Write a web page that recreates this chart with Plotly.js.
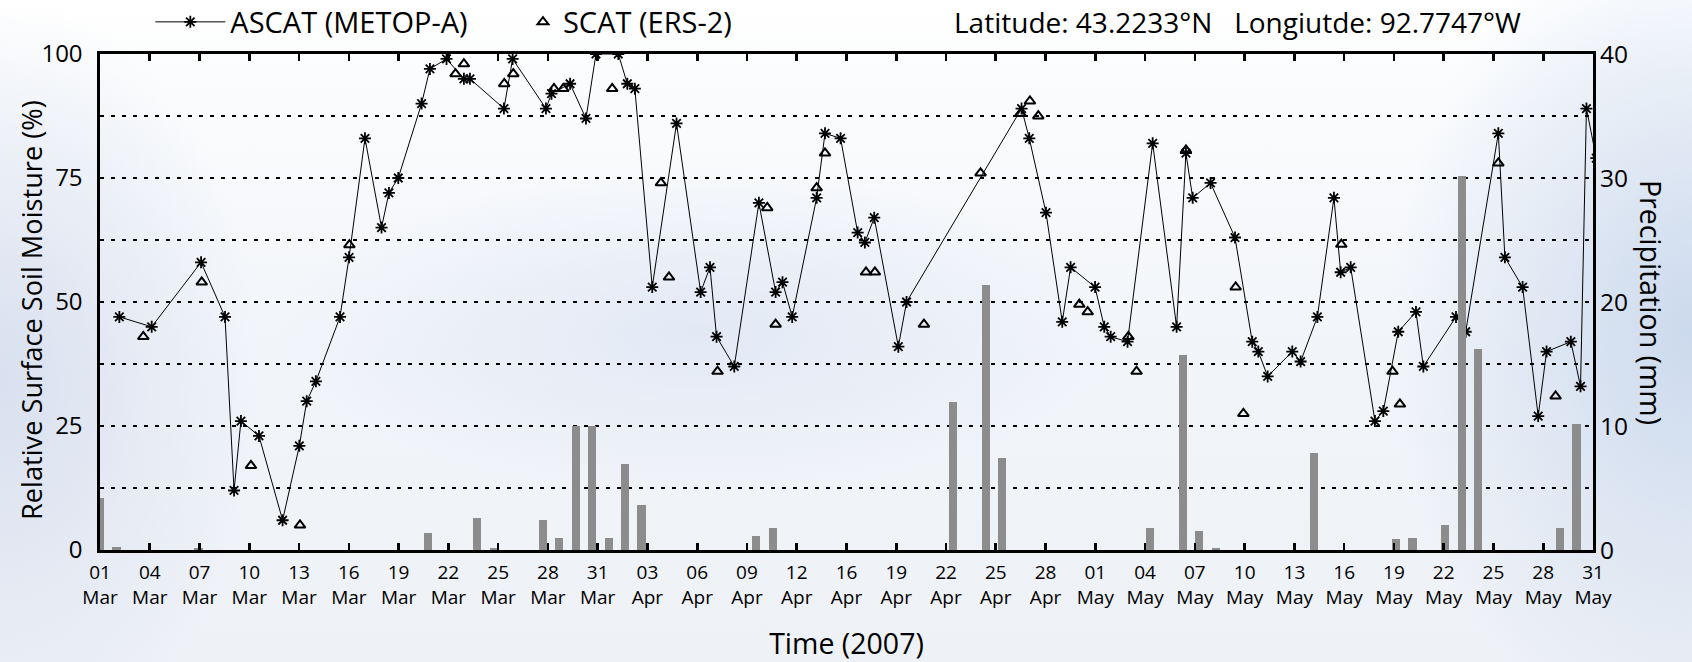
<!DOCTYPE html>
<html>
<head>
<meta charset="utf-8">
<script src="https://cdn.plot.ly/plotly-3.0.1.min.js"></script>
<style>
  html, body { margin: 0; padding: 0; }
  body {
    width: 1692px; height: 662px; overflow: hidden;
    background:
      radial-gradient(ellipse 300px 420px at 1692px 330px, rgba(200,215,236,0.9), rgba(200,215,236,0) 100%),
      radial-gradient(ellipse 260px 380px at 0px 380px, rgba(214,222,238,0.9), rgba(214,222,238,0) 100%),
      radial-gradient(ellipse 420px 160px at 700px 330px, rgba(222,230,244,0.8), rgba(222,230,244,0) 100%),
      linear-gradient(to bottom, #ffffff 0%, #fbfcfd 12%, #f1f4f9 55%, #eef1f6 100%);
  }
  #chart { width: 1692px; height: 662px; }
</style>
</head>
<body>
<div id="chart"></div>
<script>
// x values: days since 01 Mar 2007 (00:00)
var ascatDay = [1.18, 3.15, 6.16, 7.62, 8.17, 8.59, 9.69, 11.13, 12.15, 12.6, 13.16, 14.63, 15.18, 16.15, 17.16, 17.61, 18.18, 19.6, 20.11, 21.12, 22.18, 22.55, 24.62, 25.15, 27.18, 27.52, 28.65, 29.62, 30.23, 31.59, 32.14, 32.6, 33.66, 35.14, 36.61, 37.18, 37.58, 38.66, 40.16, 41.18, 41.6, 42.19, 43.68, 44.19, 45.14, 46.18, 46.62, 47.19, 48.66, 49.16, 56.17, 56.64, 57.66, 58.65, 59.16, 60.65, 61.21, 61.6, 62.63, 64.16, 65.62, 66.19, 66.6, 67.69, 69.18, 70.23, 70.6, 71.17, 72.67, 73.18, 74.2, 75.21, 75.62, 76.23, 77.71, 78.22, 79.13, 80.21, 80.66, 82.65, 83.24, 85.23, 85.63, 86.71, 87.66, 88.17, 89.65, 90.24, 90.6, 91.2];
var ascatSM  = [47, 45, 58, 47, 12, 26, 23, 6, 21, 30, 34, 47, 59, 83, 65, 72, 75, 90, 97, 99, 95, 95, 89, 99, 89, 92, 94, 87, 100, 100, 94, 93, 53, 86, 52, 57, 43, 37, 70, 52, 54, 47, 71, 84, 83, 64, 62, 67, 41, 50, 89, 83, 68, 46, 57, 53, 45, 43, 42, 82, 45, 80, 71, 74, 63, 42, 40, 35, 40, 38, 47, 71, 56, 57, 26, 28, 44, 48, 37, 47, 44, 84, 59, 53, 27, 40, 42, 33, 89, 79];

var scatDay = [2.64, 6.2, 9.2, 12.19, 15.2, 21.67, 22.18, 24.64, 25.19, 27.67, 28.24, 31.22, 34.19, 34.68, 37.64, 40.67, 41.18, 43.68, 44.19, 46.69, 47.23, 50.22, 53.67, 56.1, 56.68, 57.19, 59.69, 60.2, 62.68, 63.18, 66.19, 69.22, 69.69, 75.66, 78.78, 79.23, 85.23, 88.72];
var scatSM  = [43, 54, 17, 5, 61.5, 96, 98, 94, 96, 93, 93, 93, 74, 55, 36, 69, 45.5, 73, 80, 56, 56, 45.5, 76, 88, 90.5, 87.5, 49.5, 48, 43, 36, 80.6, 53, 27.5, 61.6, 36, 29.4, 78, 31];

var precipDay = [0, 1, 6, 20, 23, 24, 27, 28, 29, 30, 31, 32, 33, 40, 41, 52, 54, 55, 64, 66, 67, 68, 74, 79, 80, 82, 83, 84, 89, 90];
var precipMM  = [4.2, 0.25, 0.2, 1.35, 2.6, 0.2, 2.4, 1, 10, 10, 1, 6.9, 3.6, 1.1, 1.8, 11.9, 21.4, 7.4, 1.75, 15.7, 1.55, 0.2, 7.8, 0.9, 0.95, 2.0, 30.2, 16.2, 1.8, 10.2];

var tickLabels = ['01<br>Mar','04<br>Mar','07<br>Mar','10<br>Mar','13<br>Mar','16<br>Mar','19<br>Mar','22<br>Mar','25<br>Mar','28<br>Mar','31<br>Mar',
                  '03<br>Apr','06<br>Apr','09<br>Apr','12<br>Apr','16<br>Apr','19<br>Apr','22<br>Apr','25<br>Apr','28<br>Apr',
                  '01<br>May','04<br>May','07<br>May','10<br>May','13<br>May','16<br>May','19<br>May','22<br>May','25<br>May','28<br>May','31<br>May'];
var smTicks = [0, 25, 50, 75, 100];
var smMinor = [12.5, 37.5, 62.5, 87.5];
var precipTicks = [0, 10, 20, 30, 40];

var SPAN = 91; // 01 Mar -> 31 May
var tickVals = tickLabels.map(function (_, i) { return i * SPAN / (tickLabels.length - 1); });

var FONT = '"Open Sans", "Noto Sans", sans-serif';
var GRIDDASH = '4px,7px';

var traces = [
  {
    type: 'bar', x: precipDay, y: precipMM, yaxis: 'y2', width: 0.5,
    marker: { color: '#8c8c8c', line: { width: 0 } }, showlegend: false, name: 'Precipitation'
  },
  {
    type: 'scatter', mode: 'lines+markers', x: ascatDay, y: ascatSM, name: 'ASCAT (METOP-A)',
    line: { color: 'black', width: 1 }, legend: 'legend',
    marker: { symbol: 'asterisk-open', size: 10, color: 'black', line: { color: 'black', width: 1.8 } }
  },
  {
    type: 'scatter', mode: 'markers', x: scatDay, y: scatSM, name: 'SCAT (ERS-2)', legend: 'legend2',
    marker: { symbol: 'triangle-up-open', size: 9.5, color: 'black', line: { color: 'black', width: 2 } }
  }
];

var layout = {
  width: 1692, height: 662,
  margin: { l: 100, r: 99, t: 54, b: 112, autoexpand: false },
  paper_bgcolor: 'rgba(0,0,0,0)',
  plot_bgcolor: 'rgba(0,0,0,0)',
  font: { family: FONT, color: 'black' },
  bargap: 0,
  xaxis: {
    range: [0, SPAN], tickvals: tickVals, ticktext: tickLabels,
    showline: true, linecolor: 'black', linewidth: 2.6, mirror: 'ticks',
    ticks: 'inside', ticklen: 7, tickwidth: 2.6, tickcolor: 'black',
    showgrid: false, zeroline: false,
    tickfont: { size: 19, family: FONT },
    ticklabelstandoff: 4,
    title: { text: 'Time (2007)', font: { size: 28.5, family: FONT }, standoff: 33 }
  },
  yaxis: {
    range: [0, 100], tickvals: smTicks,
    showline: true, linecolor: 'black', linewidth: 2.6, mirror: true,
    ticks: '', zeroline: false,
    showgrid: true, gridcolor: 'black', gridwidth: 1.8, griddash: GRIDDASH,
    minor: { tickvals: smMinor, showgrid: true, gridcolor: 'black', gridwidth: 1.8, griddash: GRIDDASH, ticks: '' },
    tickfont: { size: 24, family: FONT },
    ticklabelstandoff: 10
  },
  yaxis2: {
    range: [0, 40], tickvals: precipTicks, overlaying: 'y', side: 'right',
    showline: false, ticks: '', showgrid: false, zeroline: false,
    tickfont: { size: 24.5, family: FONT },
    ticklabelstandoff: 6
  },
  legend: {
    orientation: 'h', x: 0.0337, xanchor: 'left', y: 1.0645, yanchor: 'middle',
    font: { size: 29, family: FONT }, bgcolor: 'rgba(0,0,0,0)', itemwidth: 70, tracegroupgap: 0
  },
  legend2: {
    orientation: 'h', x: 0.2833, xanchor: 'left', y: 1.0645, yanchor: 'middle',
    font: { size: 29, family: FONT }, bgcolor: 'rgba(0,0,0,0)', itemwidth: 30, tracegroupgap: 0
  },
  annotations: [
    {
      text: 'Latitude: 43.2233°N   Longiutde: 92.7747°W', xref: 'paper', yref: 'paper',
      x: 0.762, y: 1.0645, xanchor: 'center', yanchor: 'middle', showarrow: false,
      font: { size: 28, family: FONT }
    },
    {
      text: 'Relative Surface Soil Moisture (%)', xref: 'paper', yref: 'paper',
      x: -0.0455, y: 0.484, xanchor: 'center', yanchor: 'middle', textangle: -90, showarrow: false,
      font: { size: 27.2, family: FONT }
    },
    {
      text: 'Precipitation (mm)', xref: 'paper', yref: 'paper',
      x: 1.0389, y: 0.5, xanchor: 'center', yanchor: 'middle', textangle: 90, showarrow: false,
      font: { size: 28.5, family: FONT }
    }
  ]
};

Plotly.newPlot('chart', traces, layout, { staticPlot: true, displayModeBar: false });
</script>
</body>
</html>
